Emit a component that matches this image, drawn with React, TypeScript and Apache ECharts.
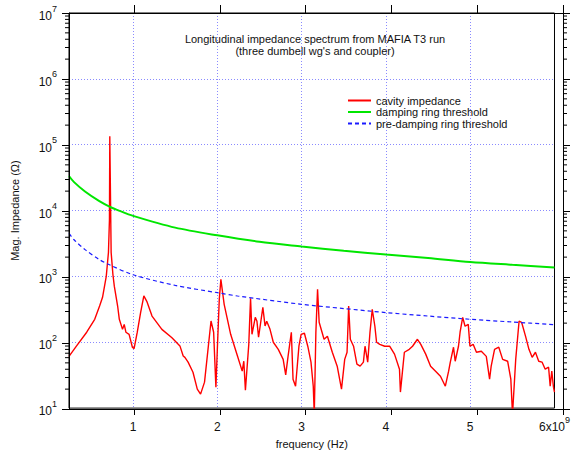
import React, { useEffect, useRef } from "react";
import * as echarts from "echarts";

// ---- axis ranges / tick labels ----
const X_MIN = 0.24;
const X_MAX = 6;
const xTickValues = [1, 2, 3, 4, 5, 6];
const Y_MIN = 10;
const Y_MAX = 1e7;
const yMinorMantissas = [2, 3, 4, 5, 6, 7, 8, 9];
const yDecades = [10, 100, 1000, 10000, 100000, 1000000];

// ---- cavity impedance, frequency in units of 1e9 Hz ----
const cavityFreq = [
  0.24, 0.33, 0.45, 0.545, 0.603, 0.638, 0.682, 0.708, 0.72, 0.724,
  0.74, 0.761, 0.778, 0.817, 0.837, 0.875, 0.895, 0.915, 0.953, 0.992,
  1.012, 1.05, 1.09, 1.128, 1.163, 1.225, 1.342, 1.458, 1.556, 1.595,
  1.615, 1.653, 1.711, 1.762, 1.801, 1.848, 1.925, 1.956, 1.983, 2.003,
  2.023, 2.042, 2.081, 2.158, 2.236, 2.295, 2.314, 2.333, 2.373, 2.394,
  2.411, 2.45, 2.47, 2.489, 2.54, 2.566, 2.586, 2.625, 2.664, 2.723,
  2.781, 2.811, 2.839, 2.878, 2.898, 2.928, 2.968, 2.994, 3.033, 3.073,
  3.111, 3.138, 3.15, 3.169, 3.189, 3.208, 3.266, 3.306, 3.364, 3.422,
  3.473, 3.511, 3.539, 3.558, 3.578, 3.616, 3.656, 3.694, 3.733, 3.752,
  3.784, 3.811, 3.838, 3.869, 3.889, 3.927, 3.986, 4.044, 4.102, 4.161,
  4.172, 4.199, 4.219, 4.277, 4.316, 4.374, 4.414, 4.472, 4.53, 4.589,
  4.647, 4.705, 4.744, 4.764, 4.802, 4.822, 4.861, 4.88, 4.911, 4.939,
  4.977, 4.997, 5.035, 5.074, 5.132, 5.191, 5.23, 5.249, 5.289, 5.339,
  5.385, 5.444, 5.482, 5.502, 5.54, 5.58, 5.61, 5.657, 5.697, 5.735,
  5.774, 5.813, 5.852, 5.89, 5.93, 5.949, 5.968, 5.988, 6.0,
];
const cavityMag = [
  61, 88, 142, 223, 355, 481, 1000, 2310, 7310, 134000,
  2310, 1070, 705, 355, 223, 157, 187, 142, 132, 84,
  80, 142, 285, 507, 418, 250, 157, 118, 88, 62,
  59, 50, 35, 19.4, 16.3, 24.8, 210, 142, 20.8, 100,
  448, 901, 377, 132, 63.5, 36.4, 51.5, 18.7, 93, 464,
  132, 239, 208, 119, 339, 177, 208, 157, 100, 78,
  55, 32, 61, 142, 27.5, 21.5, 87, 132, 137, 87,
  50, 21.5, 8, 142, 635, 201, 111, 123, 70.5, 43.3,
  19.4, 55, 70.5, 355, 111, 87, 46.4, 43.3, 50, 87,
  50, 142, 316, 175, 100, 93, 87, 87, 66, 39,
  17.5, 39, 70.5, 78, 87, 111, 93, 66, 43.3, 36.4,
  30.5, 21.5, 36.4, 50, 84, 51.5, 87, 142, 239, 175,
  187, 87, 93, 70.5, 73, 61, 27.5, 43.3, 78, 84,
  55, 51.5, 27.5, 8, 55, 210, 201, 123, 78, 59,
  70.5, 51.5, 50, 39, 41.8, 21.5, 36.4, 20.8, 17.5,
];

// ---- damping ring threshold ----
const dampFreq = [0.24, 0.3, 0.43, 0.6, 0.72, 0.84, 1, 1.5, 2, 2.5, 3, 3.5, 4, 4.5, 5, 5.5, 6];
const dampMag = [33500, 27000, 19500, 13900, 11500, 9900, 8300, 5500, 4200, 3350, 2850, 2450, 2150, 1900, 1650, 1500, 1370];

// ---- pre-damping ring threshold ----
const preFreq = [0.24, 0.3, 0.43, 0.6, 0.72, 1, 1.5, 2, 2.24, 3, 3.5, 4, 4.5, 5, 5.5, 6];
const preMag = [4500, 3600, 2550, 1800, 1500, 1060, 730, 566, 504, 377, 325, 282, 250, 223, 203, 185];

const FONT = "Liberation Sans, Arial, Helvetica, sans-serif";
const GRID_COLOR = "#8a8aff";
const TEXT = "#111";
const GRID = { left: 69, right: 10, top: 13, bottom: 45 };

const labelRich = {
  b: { fontSize: 12, lineHeight: 12, padding: [6, 0, 0, 0], color: TEXT },
  s: { fontSize: 9, lineHeight: 9, padding: [0, 0, 9, 0], color: TEXT },
};

export default function App() {
  const ref = useRef<HTMLDivElement>(null);
  const frameRef = useRef<HTMLDivElement>(null);

  useEffect(() => {
    if (!ref.current || !frameRef.current) return;
    const chart = echarts.init(ref.current, null, { renderer: "svg" });
    const frame = echarts.init(frameRef.current, null, { renderer: "svg" });

    const minorTickValues: number[] = [];
    yDecades.forEach((d) => yMinorMantissas.forEach((m) => minorTickValues.push(m * d)));
    const pairs = (xs: number[], ys: number[]) => xs.map((x, i) => [x, ys[i]]);

    // data, labels, grid lines, legend, titles; the grid border gives the plot frame
    chart.setOption({
      animation: false,
      textStyle: { fontFamily: FONT },
      grid: { ...GRID, show: true, borderColor: "#000", borderWidth: 1, backgroundColor: "transparent" },
      legend: {
        orient: "vertical",
        left: 347,
        top: 95,
        padding: 0,
        itemWidth: 23,
        itemHeight: 10,
        itemGap: 0.5,
        itemStyle: { opacity: 0 },
        textStyle: { fontSize: 11, color: TEXT },
        data: ["cavity impedance", "damping ring threshold", "pre-damping ring threshold"],
        selectedMode: false,
      },
      graphic: [
        {
          type: "text",
          x: 315,
          y: 39,
          style: {
            text: "Longitudinal impedance spectrum from MAFIA T3 run",
            fill: TEXT,
            fontSize: 11,
            align: "center",
            verticalAlign: "middle",
          },
        },
        {
          type: "text",
          x: 315,
          y: 51,
          style: {
            text: "(three dumbell wg's and coupler)",
            fill: TEXT,
            fontSize: 11,
            align: "center",
            verticalAlign: "middle",
          },
        },
      ],
      xAxis: {
        type: "value",
        min: X_MIN,
        max: X_MAX,
        name: "frequency (Hz)",
        nameLocation: "middle",
        nameGap: 27,
        nameTextStyle: { fontSize: 11, color: TEXT },
        axisLine: { show: false },
        axisTick: { show: false },
        axisLabel: {
          customValues: xTickValues,
          margin: 10,
          formatter: (v: number) => (Math.abs(v - 6) < 1e-9 ? "{b|6x10}{s|9}" : `{b|${Math.round(v)}}`),
          rich: labelRich,
        },
        splitLine: {
          show: true,
          showMinLine: false,
          showMaxLine: false,
          lineStyle: { color: GRID_COLOR, width: 1, type: [1, 2] },
        },
      },
      yAxis: {
        type: "log",
        min: Y_MIN,
        max: Y_MAX,
        name: "Mag. Impedance (Ω)",
        nameLocation: "middle",
        nameGap: 49,
        nameTextStyle: { fontSize: 11, color: TEXT },
        axisLine: { show: false },
        axisTick: { show: false },
        axisLabel: {
          margin: 12,
          formatter: (v: number) => `{b|10}{s|${Math.round(Math.log10(v))}}`,
          rich: labelRich,
        },
        splitLine: {
          show: true,
          showMinLine: false,
          showMaxLine: false,
          lineStyle: { color: GRID_COLOR, width: 1, type: [1, 2] },
        },
      },
      series: [
        {
          name: "cavity impedance",
          type: "line",
          data: pairs(cavityFreq, cavityMag),
          symbol: "none",
          lineStyle: { color: "#ff0000", width: 1.4 },
          itemStyle: { color: "#ff0000" },
        },
        {
          name: "damping ring threshold",
          type: "line",
          data: pairs(dampFreq, dampMag),
          symbol: "none",
          smooth: 0.3,
          lineStyle: { color: "#00e600", width: 2 },
          itemStyle: { color: "#00e600" },
        },
        {
          name: "pre-damping ring threshold",
          type: "line",
          data: pairs(preFreq, preMag),
          symbol: "none",
          smooth: 0.3,
          lineStyle: { color: "#1a1aff", width: 1.2, type: [4, 3] },
          itemStyle: { color: "#1a1aff" },
        },
      ],
    });

    // axis lines, major and minor ticks (same scales, drawn as an overlay)
    frame.setOption({
      animation: false,
      backgroundColor: "transparent",
      grid: GRID,
      xAxis: [
        {
          type: "value", min: X_MIN, max: X_MAX, position: "bottom",
          axisLine: { show: true, onZero: false, lineStyle: { color: "#000", width: 1 } },
          axisTick: { show: true, length: 6, customValues: xTickValues },
          axisLabel: { show: false },
          splitLine: { show: false },
        },
        {
          type: "value", min: X_MIN, max: X_MAX, position: "top",
          axisLine: { show: true, onZero: false, lineStyle: { color: "#000", width: 1 } },
          axisTick: { show: true, length: 8, customValues: xTickValues },
          axisLabel: { show: false },
          splitLine: { show: false },
        },
      ],
      yAxis: [
        {
          type: "log", min: Y_MIN, max: Y_MAX, position: "left",
          axisLine: { show: true, onZero: false, lineStyle: { color: "#000", width: 1 } },
          axisTick: { show: true, length: 7 },
          axisLabel: { show: false },
          splitLine: { show: false },
        },
        {
          type: "log", min: Y_MIN, max: Y_MAX, position: "right",
          axisLine: { show: true, onZero: false, lineStyle: { color: "#000", width: 1 } },
          axisTick: { show: true, length: 7 },
          axisLabel: { show: false },
          splitLine: { show: false },
        },
      ],
      series: [
        {
          type: "custom",
          coordinateSystem: "cartesian2d",
          xAxisIndex: 0,
          yAxisIndex: 0,
          clip: false,
          data: minorTickValues.map((v) => [X_MIN, v]),
          encode: { x: 0, y: 1 },
          renderItem: (params: any, api: any) => {
            const cs = params.coordSys;
            const y = api.coord([X_MIN, api.value(1)])[1];
            return {
              type: "group",
              children: [
                { type: "line", shape: { x1: cs.x - 4, y1: y, x2: cs.x, y2: y }, style: { stroke: "#000", lineWidth: 1 } },
                { type: "line", shape: { x1: cs.x + cs.width, y1: y, x2: cs.x + cs.width + 4, y2: y }, style: { stroke: "#000", lineWidth: 1 } },
              ],
            };
          },
        },
      ],
    });

    return () => {
      frame.dispose();
      chart.dispose();
    };
  }, []);

  return (
    <div style={{ position: "absolute", left: 0, top: 0, width: 573, height: 454, background: "#fff" }}>
      <div ref={ref} style={{ position: "absolute", left: 0, top: 0, width: 573, height: 454 }} />
      <div ref={frameRef} style={{ position: "absolute", left: 0, top: 0, width: 573, height: 454, pointerEvents: "none" }} />
    </div>
  );
}
